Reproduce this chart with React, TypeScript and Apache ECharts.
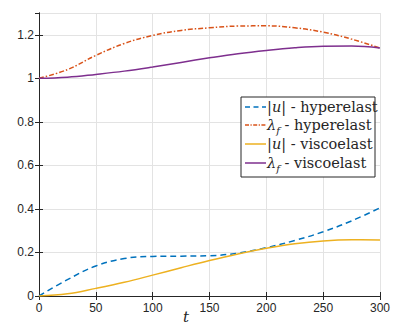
import React, { useEffect, useRef } from "react";
import * as echarts from "echarts";

const tValues = [0, 25, 50, 75, 100, 125, 150, 175, 200, 225, 250, 275, 300];
const uHyper = [0, 0.075, 0.138, 0.172, 0.182, 0.183, 0.185, 0.197, 0.222, 0.255, 0.295, 0.345, 0.405];
const lamHyper = [1, 1.04, 1.105, 1.16, 1.197, 1.22, 1.232, 1.24, 1.241, 1.232, 1.212, 1.18, 1.139];
const uVisco = [0, 0.01, 0.035, 0.063, 0.096, 0.13, 0.163, 0.193, 0.219, 0.24, 0.253, 0.258, 0.257];
const lamVisco = [1, 1.005, 1.018, 1.033, 1.052, 1.073, 1.094, 1.113, 1.128, 1.14, 1.147, 1.148, 1.139];
const legendLabels = [
  "{r||}{i|u}{r|| - hyperelast}",
  "{i|λ}{s|f}{r| - hyperelast}",
  "{r||}{i|u}{r|| - viscoelast}",
  "{i|λ}{s|f}{r| - viscoelast}",
];
const xAxisTitle = "t";
const seriesColors = ["#0072BD", "#D95319", "#EDB120", "#7E2F8E"];
const seriesDash: (number[] | null)[] = [[5, 3.5], [4, 1.5, 1.2, 1.5], null, null];

const pairs = (ys: number[]) => tValues.map((t, i) => [t, ys[i]]);

export default function App() {
  const ref = useRef<HTMLDivElement>(null);
  useEffect(() => {
    const chart = echarts.init(ref.current!, null, { renderer: "svg" });
    const axisColor = "#262626";
    const gridColor = "#e3e3e3";
    const labelFont = { fontFamily: "Arial", fontSize: 12, color: axisColor };
    const serif = "DejaVu Serif";
    const legendFont = 14.5;
    const boxX = 241, boxY = 97, boxW = 134, boxH = 80;
    const rowYs = [107, 125, 144, 163];
    const legendEls: any[] = [
      { type: "rect", shape: { x: boxX, y: boxY, width: boxW, height: boxH }, style: { fill: "#fff", stroke: axisColor, lineWidth: 1 }, z: 100 },
      {
        type: "text", x: 186, y: 317, z: 101,
        style: { text: xAxisTitle, fontFamily: serif, fontStyle: "italic", fontSize: 15, fill: axisColor, align: "center", verticalAlign: "middle" },
      },
    ];
    legendLabels.forEach((lbl, k) => {
      legendEls.push({
        type: "line",
        shape: { x1: boxX + 4, y1: rowYs[k], x2: boxX + 25, y2: rowYs[k] },
        style: { stroke: seriesColors[k], lineWidth: 1.5, lineDash: seriesDash[k] || undefined },
        z: 101,
      });
      legendEls.push({
        type: "text",
        x: boxX + 26,
        y: rowYs[k],
        z: 101,
        style: {
          text: lbl,
          fill: axisColor,
          fontFamily: serif,
          fontSize: legendFont,
          verticalAlign: "middle",
          rich: {
            r: { fontFamily: serif, fontSize: legendFont, fill: axisColor },
            i: { fontFamily: serif, fontStyle: "italic", fontSize: legendFont, fill: axisColor },
            s: { fontFamily: serif, fontStyle: "italic", fontSize: 10, fill: axisColor, padding: [10, 0, 0, 0] },
          },
        },
      });
    });
    chart.setOption({
      animation: false,
      backgroundColor: "#ffffff",
      grid: { left: 39, right: 15, top: 13, bottom: 33 },
      xAxis: [
        {
          type: "value", min: 0, max: 300, interval: 50,
          axisLine: { lineStyle: { color: axisColor, width: 1 } },
          axisTick: { inside: true, length: 4, lineStyle: { color: axisColor } },
          axisLabel: { ...labelFont, margin: 6 },
          splitLine: { show: true, lineStyle: { color: gridColor, width: 1 } },
        },
        {
          type: "value", min: 0, max: 300, interval: 50, position: "top",
          axisLine: { show: true, lineStyle: { color: axisColor, width: 1 } },
          axisTick: { inside: true, length: 4, lineStyle: { color: axisColor } },
          axisLabel: { show: false }, splitLine: { show: false },
        },
      ],
      yAxis: [
        {
          type: "value", min: 0, max: 1.3, interval: 0.2,
          axisLine: { show: true, lineStyle: { color: axisColor, width: 1 } },
          axisTick: { inside: true, length: 4, lineStyle: { color: axisColor } },
          axisLabel: {
            ...labelFont, margin: 5, showMaxLabel: false,
            formatter: (v: number) => (v > 1.25 ? "" : (Math.round(v * 10) / 10).toString()),
          },
          splitLine: { show: true, lineStyle: { color: gridColor, width: 1 } },
        },
        {
          type: "value", min: 0, max: 1.3, interval: 0.2, position: "right",
          axisLine: { show: true, lineStyle: { color: axisColor, width: 1 } },
          axisTick: { inside: true, length: 4, lineStyle: { color: axisColor } },
          axisLabel: { show: false }, splitLine: { show: false },
        },
      ],
      graphic: legendEls,
      series: [
        {
          name: "|u| - hyperelast", type: "line", data: pairs(uHyper), smooth: 0.4, symbol: "none",
          lineStyle: { color: seriesColors[0], width: 1.5, type: [6, 4] },
        },
        {
          name: "λf - hyperelast", type: "line", data: pairs(lamHyper), smooth: 0.4, symbol: "none",
          lineStyle: { color: seriesColors[1], width: 1.5, type: [5, 2, 1.5, 2] },
        },
        {
          name: "|u| - viscoelast", type: "line", data: pairs(uVisco), smooth: 0.4, symbol: "none",
          lineStyle: { color: seriesColors[2], width: 1.5 },
        },
        {
          name: "λf - viscoelast", type: "line", data: pairs(lamVisco), smooth: 0.4, symbol: "none",
          lineStyle: { color: seriesColors[3], width: 1.5 },
        },
      ],
    });
    return () => chart.dispose();
  }, []);
  return <div ref={ref} style={{ width: 395, height: 329, position: "absolute", left: 0, top: 0 }} />;
}
